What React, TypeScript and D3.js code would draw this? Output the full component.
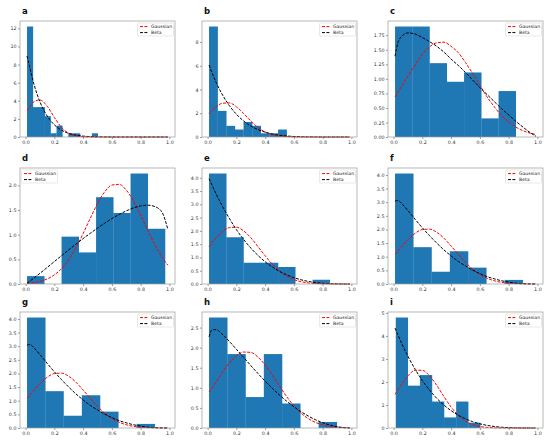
import { useEffect, useRef } from "react";
import * as d3 from "d3";

// sample positions of the fitted curves
const curveX = [0.01, 0.03, 0.06, 0.1, 0.15, 0.2, 0.25, 0.3, 0.35, 0.4, 0.45, 0.5, 0.55, 0.6, 0.65, 0.7, 0.75, 0.8, 0.85, 0.9, 0.95, 0.99];
const xTicks = [0, 0.2, 0.4, 0.6, 0.8, 1.0];

// a
const edgesA = [0.01, 0.051, 0.092, 0.133, 0.174, 0.215, 0.256, 0.297, 0.338, 0.379, 0.42, 0.461, 0.502];
const densA = [12.2, 3.3, 3.3, 2.3, 0.41, 1.25, 0, 0.41, 0.41, 0, 0, 0.41];
const gaussA = [2.93, 3.4, 3.92, 4.09, 3.4, 2.16, 1.05, 0.4, 0.11, 0.025, 0.004, 0, 0, 0, 0, 0, 0, 0, 0, 0, 0, 0];
const betaA = [8.95, 7.6, 5.73, 3.87, 2.32, 1.34, 0.75, 0.4, 0.21, 0.1, 0.046, 0.02, 0.008, 0.003, 0, 0, 0, 0, 0, 0, 0, 0];
const yTicksA = [0, 2, 4, 6, 8, 10, 12];

// b
const edgesB = [0.01, 0.07, 0.13, 0.19, 0.25, 0.31, 0.37, 0.43, 0.49, 0.55];
const densB = [9.3, 2.2, 0.94, 0.63, 1.26, 0.94, 0.31, 0.31, 0.63];
const gaussB = [1.98, 2.23, 2.55, 2.83, 2.87, 2.55, 1.98, 1.35, 0.81, 0.42, 0.195, 0.078, 0.028, 0.009, 0.002, 0, 0, 0, 0, 0, 0, 0];
const betaB = [6.06, 5.43, 4.58, 3.62, 2.66, 1.92, 1.35, 0.93, 0.625, 0.41, 0.25, 0.15, 0.086, 0.045, 0.022, 0.01, 0.004, 0, 0, 0, 0, 0];
const yTicksB = [0, 2, 4, 6, 8];

// c
const edgesC = [0.01, 0.13, 0.25, 0.37, 0.49, 0.61, 0.73, 0.85];
const densC = [1.9, 1.9, 1.27, 0.95, 1.11, 0.32, 0.79];
const gaussC = [0.69, 0.77, 0.89, 1.05, 1.24, 1.42, 1.55, 1.62, 1.63, 1.56, 1.45, 1.28, 1.09, 0.89, 0.69, 0.52, 0.37, 0.26, 0.17, 0.108, 0.066, 0.043];
const betaC = [1.39, 1.62, 1.74, 1.79, 1.77, 1.71, 1.64, 1.56, 1.46, 1.34, 1.23, 1.11, 0.98, 0.85, 0.73, 0.61, 0.49, 0.38, 0.27, 0.17, 0.075, 0.012];
const yTicksC = [0, 0.25, 0.5, 0.75, 1.0, 1.25, 1.5, 1.75];

// d
const edgesD = [0.01, 0.13, 0.25, 0.37, 0.49, 0.61, 0.73, 0.85, 0.97];
const densD = [0.16, 0, 0.96, 0.64, 1.76, 1.44, 2.24, 1.12];
const gaussD = [0.014, 0.019, 0.03, 0.053, 0.103, 0.185, 0.313, 0.495, 0.735, 1.023, 1.334, 1.63, 1.868, 2.006, 2.02, 1.905, 1.685, 1.396, 1.084, 0.79, 0.539, 0.38];
const betaD = [0.018, 0.059, 0.125, 0.217, 0.335, 0.455, 0.574, 0.692, 0.808, 0.921, 1.029, 1.134, 1.233, 1.325, 1.409, 1.482, 1.542, 1.583, 1.598, 1.569, 1.449, 1.099];
const yTicksD = [0, 0.5, 1.0, 1.5, 2.0];

// e
const edgesE = [0.01, 0.13, 0.25, 0.37, 0.49, 0.61, 0.73, 0.85];
const densE = [4.16, 1.76, 0.8, 0.8, 0.64, 0, 0.16];
const gaussE = [1.41, 1.551, 1.745, 1.959, 2.122, 2.138, 2.002, 1.745, 1.41, 1.065, 0.746, 0.487, 0.295, 0.166, 0.087, 0.042, 0.019, 0.008, 0.003, 0.001, 0, 0];
const betaE = [3.97, 3.73, 3.38, 2.96, 2.48, 2.05, 1.68, 1.357, 1.078, 0.84, 0.643, 0.478, 0.345, 0.239, 0.158, 0.098, 0.056, 0.028, 0.011, 0.003, 0, 0];
const yTicksE = [0, 0.5, 1.0, 1.5, 2.0, 2.5, 3.0, 3.5, 4.0];

// f (g shows the same sample)
const edgesF = [0.01, 0.137, 0.264, 0.391, 0.518, 0.645, 0.772, 0.899];
const densF = [4.05, 1.35, 0.45, 1.2, 0.6, 0, 0.15];
const gaussF = [1.09, 1.21, 1.395, 1.627, 1.861, 1.997, 2.01, 1.897, 1.679, 1.395, 1.086, 0.793, 0.543, 0.349, 0.21, 0.119, 0.063, 0.031, 0.015, 0.006, 0.002, 0.001];
const betaF = [3.04, 3.06, 2.93, 2.69, 2.37, 2.06, 1.77, 1.5, 1.25, 1.03, 0.83, 0.66, 0.51, 0.38, 0.27, 0.19, 0.12, 0.07, 0.03, 0.012, 0.002, 0];
const yTicksF = [0, 0.5, 1.0, 1.5, 2.0, 2.5, 3.0, 3.5, 4.0];

// h
const edgesH = [0.01, 0.137, 0.264, 0.391, 0.518, 0.645, 0.772, 0.899];
const densH = [2.75, 1.84, 0.77, 1.84, 0.61, 0, 0.15];
const gaussH = [0.9, 0.989, 1.152, 1.369, 1.614, 1.797, 1.891, 1.881, 1.767, 1.569, 1.316, 1.043, 0.781, 0.553, 0.37, 0.234, 0.139, 0.079, 0.042, 0.021, 0.01, 0.005];
const betaH = [2.27, 2.44, 2.45, 2.34, 2.16, 1.96, 1.76, 1.555, 1.357, 1.167, 0.988, 0.821, 0.668, 0.53, 0.406, 0.298, 0.206, 0.132, 0.073, 0.032, 0.008, 0];
const yTicksH = [0, 0.5, 1.0, 1.5, 2.0, 2.5];

// i
const edgesI = [0.015, 0.099, 0.183, 0.267, 0.351, 0.435, 0.519, 0.603];
const densI = [4.8, 1.84, 2.3, 1.15, 0.46, 1.15, 0.23];
const gaussI = [1.46, 1.658, 1.942, 2.266, 2.508, 2.508, 2.266, 1.85, 1.365, 0.91, 0.548, 0.298, 0.147, 0.065, 0.026, 0.0095, 0.003, 0.001, 0, 0, 0, 0];
const betaI = [4.34, 4.045, 3.623, 3.112, 2.548, 2.061, 1.644, 1.29, 0.996, 0.753, 0.555, 0.398, 0.275, 0.182, 0.114, 0.067, 0.035, 0.016, 0.006, 0.0014, 0, 0];
const yTicksI = [0, 1, 2, 3, 4, 5];

const panels = [
  { name: "a", edges: edgesA, dens: densA, gauss: gaussA, beta: betaA, yTicks: yTicksA, fmt: "d", legendLeft: false },
  { name: "b", edges: edgesB, dens: densB, gauss: gaussB, beta: betaB, yTicks: yTicksB, fmt: "d", legendLeft: false },
  { name: "c", edges: edgesC, dens: densC, gauss: gaussC, beta: betaC, yTicks: yTicksC, fmt: ".2f", legendLeft: false },
  { name: "d", edges: edgesD, dens: densD, gauss: gaussD, beta: betaD, yTicks: yTicksD, fmt: ".1f", legendLeft: true },
  { name: "e", edges: edgesE, dens: densE, gauss: gaussE, beta: betaE, yTicks: yTicksE, fmt: ".1f", legendLeft: false },
  { name: "f", edges: edgesF, dens: densF, gauss: gaussF, beta: betaF, yTicks: yTicksF, fmt: ".1f", legendLeft: false },
  { name: "g", edges: edgesF, dens: densF, gauss: gaussF, beta: betaF, yTicks: yTicksF, fmt: ".1f", legendLeft: false },
  { name: "h", edges: edgesH, dens: densH, gauss: gaussH, beta: betaH, yTicks: yTicksH, fmt: ".1f", legendLeft: false },
  { name: "i", edges: edgesI, dens: densI, gauss: gaussI, beta: betaI, yTicks: yTicksI, fmt: "d", legendLeft: false },
];

const colLeft = [20, 202, 388];
const rowTop = [21, 168, 312];
const pw = 155;
const ph = 116;
const font = "DejaVu Sans, sans-serif";

function Grid() {
  const svgRef = useRef(null);

  useEffect(() => {
    const svg = d3.select(svgRef.current);
    svg.selectAll("*").remove();

    panels.forEach((p, i) => {
      const left = colLeft[i % 3];
      const top = rowTop[Math.floor(i / 3)];
      const g = svg.append("g").attr("transform", `translate(${left},${top})`);

      const x = d3.scaleLinear().domain([-0.039, 1.039]).range([0, pw]);
      const yMax = Math.max(d3.max(p.dens), d3.max(p.gauss), d3.max(p.beta)) * 1.05;
      const y = d3.scaleLinear().domain([0, yMax]).range([ph, 0]);

      const bins = p.dens.map((d, j) => ({ x0: p.edges[j], x1: p.edges[j + 1], v: d })).filter((b) => b.v > 0);
      g.selectAll(".bar")
        .data(bins)
        .enter()
        .append("rect")
        .attr("class", "bar")
        .attr("x", (b) => x(b.x0))
        .attr("width", (b) => x(b.x1) - x(b.x0) + 0.2)
        .attr("y", (b) => y(b.v))
        .attr("height", (b) => ph - y(b.v))
        .attr("fill", "#1f77b4");

      const line = d3
        .line()
        .x((d, j) => x(curveX[j]))
        .y((d) => y(d))
        .curve(d3.curveMonotoneX);

      g.append("path").attr("d", line(p.gauss)).attr("fill", "none").attr("stroke", "red")
        .attr("stroke-width", 1).attr("stroke-dasharray", "3,1.4");
      g.append("path").attr("d", line(p.beta)).attr("fill", "none").attr("stroke", "black")
        .attr("stroke-width", 1).attr("stroke-dasharray", "3,1.4");

      const xAxis = g.append("g")
        .attr("transform", `translate(0,${ph})`)
        .call(d3.axisBottom(x).tickValues(xTicks).tickFormat(d3.format(".1f")).tickSize(2).tickPadding(1.5));
      const yAxis = g.append("g")
        .call(d3.axisLeft(y).tickValues(p.yTicks).tickFormat(d3.format(p.fmt)).tickSize(2).tickPadding(1.5));
      [xAxis, yAxis].forEach((ax) => {
        ax.attr("font-size", 4.8).attr("font-family", font).attr("color", "#333");
        ax.select(".domain").remove();
        ax.selectAll("line").attr("stroke-width", 0.5);
      });

      g.append("rect").attr("width", pw).attr("height", ph)
        .attr("fill", "none").attr("stroke", "#9a9a9a").attr("stroke-width", 0.7);

      const lw = 36;
      const lx = p.legendLeft ? 1.5 : pw - lw - 1.5;
      const leg = g.append("g").attr("transform", `translate(${lx},2)`);
      leg.append("rect").attr("width", lw).attr("height", 13).attr("rx", 1)
        .attr("fill", "white").attr("fill-opacity", 0.8).attr("stroke", "#d0d0d0").attr("stroke-width", 0.5);
      [["Gaussian", "red"], ["Beta", "black"]].forEach(([label, color], k) => {
        const ly = 3.6 + k * 6;
        leg.append("line").attr("x1", 2.5).attr("x2", 10.5).attr("y1", ly).attr("y2", ly)
          .attr("stroke", color).attr("stroke-width", 1).attr("stroke-dasharray", "3,1.4");
        leg.append("text").attr("x", 13.5).attr("y", ly + 1.6).attr("font-size", 4.6)
          .attr("font-family", font).attr("fill", "#222").text(label);
      });

      g.append("text").attr("x", 2).attr("y", -7).attr("font-size", 8.5).attr("font-weight", "bold")
        .attr("font-family", font).attr("fill", "#111").text(p.name);
    });
  }, []);

  return (
    <svg
      ref={svgRef}
      width="550"
      height="444"
      style={{ position: "absolute", left: 0, top: 0, background: "white" }}
    ></svg>
  );
}

export default function App() {
  return <Grid />;
}
